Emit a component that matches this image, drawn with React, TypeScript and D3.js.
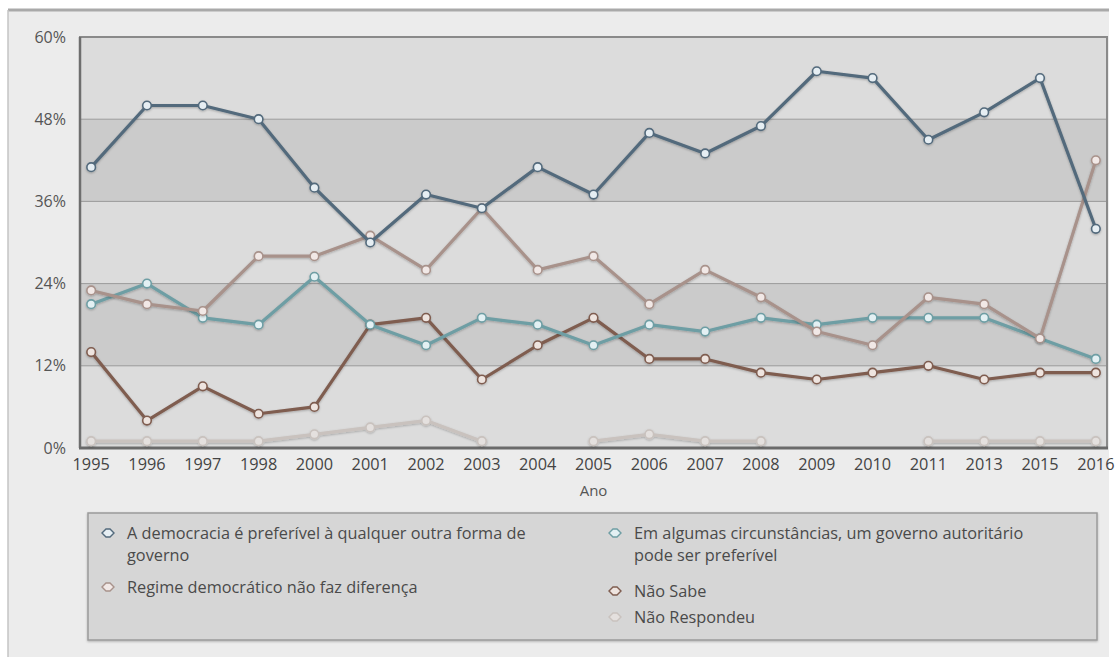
import React from "react";
import * as d3 from "d3";

const years = ["1995","1996","1997","1998","2000","2001","2002","2003","2004","2005","2006","2007","2008","2009","2010","2011","2013","2015","2016"];
const democraciaPreferivel = [41,50,50,48,38,30,37,35,41,37,46,43,47,55,54,45,49,54,32];
const autoritarioPreferivel = [21,24,19,18,25,18,15,19,18,15,18,17,19,18,19,19,19,16,13];
const naoFazDiferenca = [23,21,20,28,28,31,26,35,26,28,21,26,22,17,15,22,21,16,42];
const naoSabe = [14,4,9,5,6,18,19,10,15,19,13,13,11,10,11,12,10,11,11];
const naoRespondeu: (number | null)[] = [1,1,1,1,2,3,4,1,null,1,2,1,1,null,null,1,1,1,1];
const yTicks = [0,12,24,36,48,60];

const seriesList = [
  { name: "Não Respondeu", values: naoRespondeu, color: "#c9c2be", fill: "#e4e0de" },
  { name: "Não Sabe", values: naoSabe, color: "#7f5d50", fill: "#eee4df" },
  { name: "Em algumas circunstâncias, um governo autoritário pode ser preferível", values: autoritarioPreferivel, color: "#6e9ea4", fill: "#e3f0f3" },
  { name: "Regime democrático não faz diferença", values: naoFazDiferenca, color: "#a8928b", fill: "#f1e8e6" },
  { name: "A democracia é preferível à qualquer outra forma de governo", values: democraciaPreferivel, color: "#536a7c", fill: "#e6eef3" },
];

const W = 1118, H = 657;
const plot = { left: 80, right: 1107, top: 37, bottom: 448 };
const font = "'Open Sans', 'Noto Sans', sans-serif";

export default function App() {
  const x = d3.scalePoint<string>().domain(years).range([plot.left, plot.right]).padding(0.2);
  const y = d3.scaleLinear().domain([0, 60]).range([plot.bottom, plot.top]);
  const line = d3.line<number | null>()
    .defined((d) => d !== null)
    .x((_, i) => x(years[i])!)
    .y((d) => y(d as number));

  const bands = d3.pairs(yTicks);

  const legendItems = [
    { s: seriesList[4], lines: ["A democracia é preferível à qualquer outra forma de", "governo"], x: 108, y: 533 },
    { s: seriesList[3], lines: ["Regime democrático não faz diferença"], x: 108, y: 587 },
    { s: seriesList[2], lines: ["Em algumas circunstâncias, um governo autoritário", "pode ser preferível"], x: 615, y: 533 },
    { s: seriesList[1], lines: ["Não Sabe"], x: 615, y: 591 },
    { s: seriesList[0], lines: ["Não Respondeu"], x: 615, y: 617 },
  ];

  return (
    <svg width={W} height={H} style={{ position: "absolute", left: 0, top: 0, background: "#fff" }}>
      <defs>
        <filter id="soft" x="-5%" y="-5%" width="110%" height="120%">
          <feDropShadow dx="0" dy="1" stdDeviation="1" floodColor="#000" floodOpacity="0.25" />
        </filter>
      </defs>
      {/* outer panel */}
      <rect x={8} y={10} width={1101} height={H - 10} fill="#ececec" />
      <line x1={8} x2={1109} y1={10} y2={10} stroke="#a9a9a9" strokeWidth={3} />
      <line x1={8} x2={8} y1={10} y2={H} stroke="#c4c4c4" strokeWidth={1.5} />

      {/* alternating bands */}
      {bands.map(([a, b], i) => (
        <rect key={i} x={plot.left} width={plot.right - plot.left} y={y(b)} height={y(a) - y(b)}
          fill={i % 2 === 0 ? "#dcdcdc" : "#cbcbcb"} />
      ))}
      {yTicks.slice(1, -1).map((t) => (
        <line key={t} x1={plot.left} x2={plot.right} y1={y(t)} y2={y(t)} stroke="#9a9a9a" strokeWidth={1} />
      ))}
      {/* frame */}
      <rect x={plot.left} y={plot.top} width={plot.right - plot.left} height={plot.bottom - plot.top}
        fill="none" stroke="#8a8a8a" strokeWidth={2} />
      <line x1={plot.left} x2={plot.left} y1={plot.top} y2={plot.bottom} stroke="#6e6e6e" strokeWidth={2.5} />
      <line x1={plot.left - 1} x2={plot.right + 1} y1={plot.bottom} y2={plot.bottom} stroke="#6a6a6a" strokeWidth={3} />

      {/* y labels */}
      {yTicks.map((t) => (
        <text key={t} x={66} y={y(t)} dy="0.35em" textAnchor="end" fontFamily={font} fontSize={16} fill="#555">
          {t}%
        </text>
      ))}
      {/* x labels */}
      {years.map((yr) => (
        <text key={yr} x={x(yr)} y={464} dy="0.35em" textAnchor="middle" fontFamily={font} fontSize={16.3} fill="#444">
          {yr}
        </text>
      ))}
      <text x={(plot.left + plot.right) / 2} y={491} dy="0.35em" textAnchor="middle" fontFamily={font} fontSize={15} fill="#555">
        Ano
      </text>

      {/* series */}
      {seriesList.map((s) => (
        <g key={s.name} filter="url(#soft)">
          <path d={line(s.values) || ""} fill="none" stroke={s.color} strokeWidth={3.2} strokeLinejoin="round" />
          {s.values.map((v, i) =>
            v === null ? null : (
              <circle key={i} cx={x(years[i])} cy={y(v)} r={4.3} fill={s.fill} stroke={s.color} strokeWidth={1.6} />
            )
          )}
        </g>
      ))}

      {/* legend */}
      <rect x={88} y={513} width={1009} height={127} fill="#d6d6d6" stroke="#9a9a9a" strokeWidth={1.5} filter="url(#soft)" />
      {legendItems.map((it, k) => (
        <g key={k}>
          <path d={`M${it.x - 6},${it.y} L${it.x - 2},${it.y - 4} L${it.x + 2},${it.y - 4} L${it.x + 6},${it.y} L${it.x + 2},${it.y + 4} L${it.x - 2},${it.y + 4} Z`}
            fill={it.s.fill} stroke={it.s.color} strokeWidth={1.4} />
          {it.lines.map((ln, j) => (
            <text key={j} x={it.x + 19} y={it.y + j * 22} dy="0.35em" fontFamily={font} fontSize={16.3} fill="#4a4a4a">
              {ln}
            </text>
          ))}
        </g>
      ))}
    </svg>
  );
}
